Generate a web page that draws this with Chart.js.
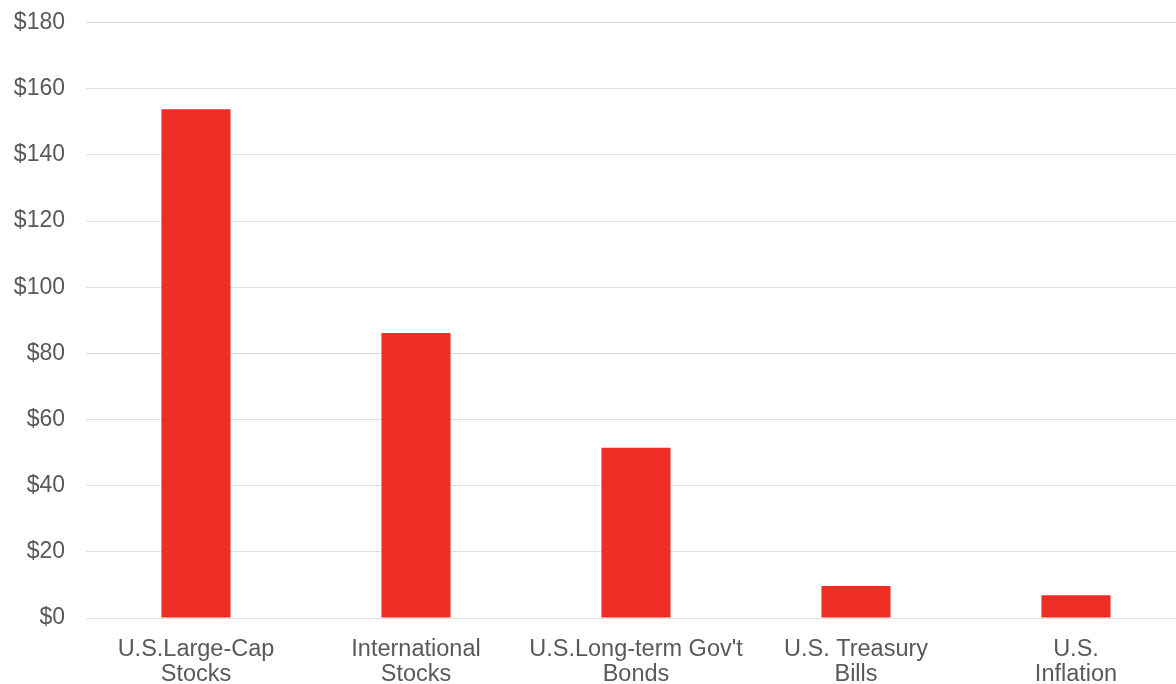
<!DOCTYPE html>
<html>
<head>
<meta charset="utf-8">
<script src="https://cdn.jsdelivr.net/npm/chart.js@4/dist/chart.umd.min.js"></script>
<style>
  html, body { margin: 0; padding: 0; background: #ffffff; overflow: hidden; }
  #wrap { position: relative; width: 1190px; height: 684px; }
</style>
</head>
<body>
<div id="wrap"><canvas id="c"></canvas></div>
<script>
const categories = [
  ["U.S.Large-Cap", "Stocks"],
  ["International", "Stocks"],
  ["U.S.Long-term Gov't", "Bonds"],
  ["U.S. Treasury", "Bills"],
  ["U.S.", "Inflation"]
];
const values = [153.8, 86.2, 51.5, 9.7, 6.9];
const yMin = 0, yMax = 180, yStep = 20;

new Chart(document.getElementById('c'), {
  type: 'bar',
  data: {
    labels: categories,
    datasets: [{
      data: values,
      backgroundColor: '#ee2e24',
      borderWidth: 0,
      categoryPercentage: 1.0,
      barPercentage: 0.314
    }]
  },
  options: {
    responsive: true,
    maintainAspectRatio: false,
    animation: false,
    layout: { padding: { top: 22.7, right: 4, bottom: 0, left: 0 } },
    plugins: { legend: { display: false }, tooltip: { enabled: false } },
    scales: {
      x: {
        grid: { display: false, drawTicks: false },
        border: { display: false },
        ticks: {
          color: '#595959',
          padding: 19,
          font: { family: '"Liberation Sans", Arial, sans-serif', size: 23.5, lineHeight: 1.06 },
          maxRotation: 0, autoSkip: false
        },
        afterFit: (s) => { s.height = 66; }
      },
      y: {
        min: yMin, max: yMax,
        grid: { color: '#dedede', lineWidth: 1, drawTicks: false },
        border: { display: false },
        ticks: {
          stepSize: yStep,
          color: '#595959',
          padding: 21,
          font: { family: '"Liberation Sans", Arial, sans-serif', size: 23 },
          callback: (v) => '$' + v
        },
        afterFit: (s) => { s.width = 86; s.paddingTop = 0; s.paddingBottom = 0; }
      }
    }
  }
});
</script>
</body>
</html>
